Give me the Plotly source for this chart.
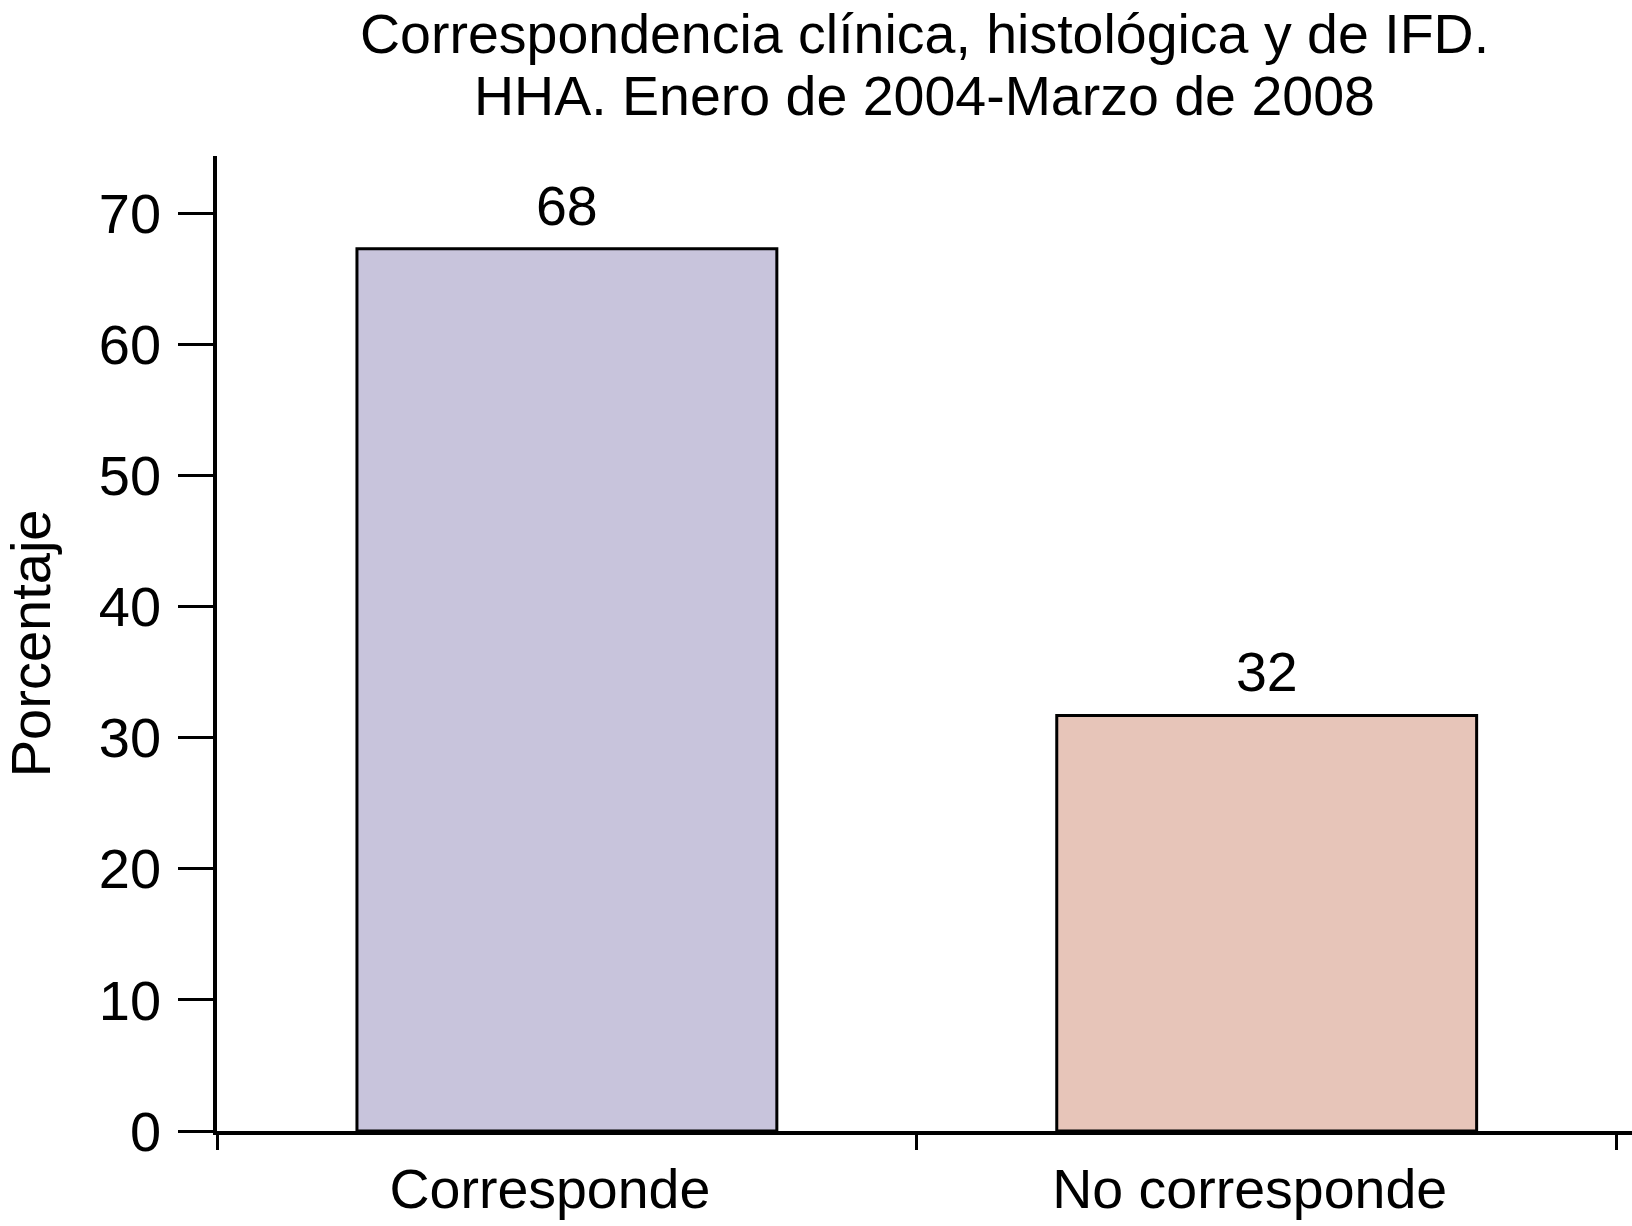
import plotly.graph_objects as go

# ---- data ----
categories = ["Corresponde", "No corresponde"]
values = [67.3, 31.7]
value_labels = ["68", "32"]
y_tick_values = [0, 10, 20, 30, 40, 50, 60, 70]
title_lines = ["Correspondencia clínica, histológica y de IFD.",
               "HHA. Enero de 2004-Marzo de 2008"]
y_title = "Porcentaje"

# ---- style ----
bar_colors = ["#C8C4DC", "#E7C5B9"]
FONT = "Liberation Sans, Arial, Helvetica, sans-serif"
FS = 55.5
FS_TICK = 56

fig = go.Figure(
    go.Bar(
        x=categories,
        y=values,
        marker=dict(color=bar_colors, line=dict(color="black", width=3)),
        width=0.6,
        hoverinfo="skip",
    )
)

# value labels above bars
for c, v, lab in zip(categories, values, value_labels):
    fig.add_annotation(
        x=c, y=v, xref="x", yref="y", text=lab, showarrow=False,
        xanchor="center", yanchor="bottom", yshift=10,
        font=dict(size=FS, color="black", family=FONT),
    )

fig.update_layout(
    width=1632,
    height=1226,
    margin=dict(l=217, r=0, t=156, b=95),
    paper_bgcolor="white",
    plot_bgcolor="white",
    showlegend=False,
    font=dict(family=FONT, size=FS, color="black"),
)

fig.update_xaxes(
    type="category",
    range=[-0.5, 1.522],
    tickson="boundaries",
    ticks="outside",
    ticklen=15,
    tickwidth=2.5,
    tickcolor="black",
    showline=True,
    linewidth=4,
    linecolor="black",
    showgrid=False,
    zeroline=False,
    ticklabelstandoff=6,
    ticklabelshift=-17,
    tickfont=dict(size=FS, color="black", family=FONT),
)

fig.update_yaxes(
    range=[0, 74.37],
    tickmode="array",
    tickvals=y_tick_values,
    ticks="outside",
    ticklen=35,
    tickwidth=3,
    tickcolor="black",
    showline=True,
    linewidth=3.5,
    linecolor="black",
    showgrid=False,
    zeroline=False,
    ticklabelstandoff=6,
    tickfont=dict(size=FS_TICK, color="black", family=FONT),
)

title_y = [1.125, 1.0616]
for line, yy in zip(title_lines, title_y):
    fig.add_annotation(
        text=line, xref="paper", yref="paper", x=0.5, y=yy,
        xanchor="center", yanchor="middle", showarrow=False,
        font=dict(size=FS, color="black", family=FONT),
    )

fig.add_annotation(
    text=y_title, xref="paper", yref="paper", x=-0.132, y=0.5005,
    xanchor="center", yanchor="middle", showarrow=False, textangle=-90,
    font=dict(size=56, color="black", family=FONT),
)

fig.write_html(
    "out.html",
    config={"displayModeBar": False},
    post_script="document.body.style.margin='0';document.body.style.padding='0';",
)
